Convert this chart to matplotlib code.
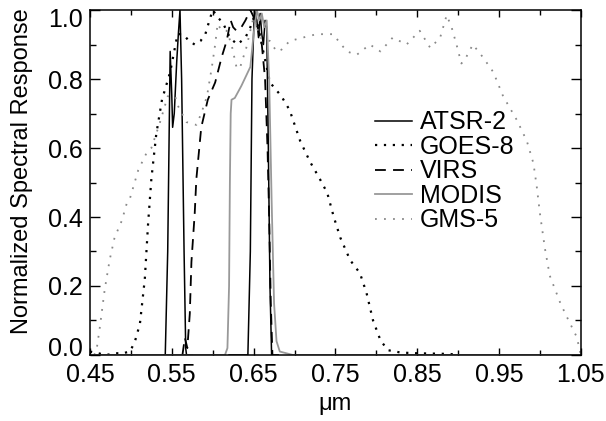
import numpy as np
import matplotlib
matplotlib.use("Agg")
import matplotlib.pyplot as plt
from matplotlib.ticker import FixedLocator
from matplotlib.transforms import ScaledTranslation

plt.rcParams['font.family'] = ['Liberation Sans', 'DejaVu Sans']

# ATSR-2 (two bands, NaN separates them)
atsr_wl = [0.540, 0.542, 0.545, 0.548, 0.550, 0.551, 0.553, 0.556, 0.558, 0.560,
           0.562, 0.565, 0.567, 0.568, 0.575, np.nan,
           0.620, 0.643, 0.646, 0.648, 0.651, 0.654, 0.656, 0.658, 0.660, 0.662,
           0.664, 0.666, 0.668, 0.670, 0.672, 0.680]
atsr_resp = [0.0, 0.0, 0.30, 0.88, 0.75, 0.66, 0.70, 0.85, 0.93, 1.0,
             0.80, 0.30, 0.02, 0.0, 0.0, np.nan,
             0.0, 0.0, 0.30, 0.80, 1.0, 0.97, 0.92, 0.99, 0.93, 0.90,
             0.97, 0.95, 0.60, 0.20, 0.0, 0.0]

goes_wl = [0.45, 0.46, 0.47, 0.48, 0.49, 0.499, 0.505, 0.511, 0.517, 0.521,
           0.525, 0.531, 0.538, 0.548, 0.557, 0.564, 0.571, 0.578, 0.585, 0.591,
           0.596, 0.600, 0.606, 0.613, 0.621, 0.630, 0.640, 0.646, 0.652, 0.660,
           0.670, 0.684, 0.694, 0.707, 0.719, 0.731, 0.740, 0.748, 0.756, 0.768,
           0.780, 0.788, 0.796, 0.805, 0.814, 0.830, 0.850, 0.870, 0.890, 0.900]
goes_resp = [0.01, 0.005, 0.0, 0.005, 0.005, 0.01, 0.04, 0.09, 0.22, 0.38,
             0.51, 0.64, 0.74, 0.82, 0.93, 0.93, 0.91, 0.90, 0.91, 0.93,
             0.97, 1.0, 0.98, 0.96, 0.92, 0.90, 0.92, 0.95, 0.99, 0.90,
             0.79, 0.75, 0.71, 0.62, 0.56, 0.51, 0.47, 0.40, 0.34, 0.275,
             0.237, 0.18, 0.10, 0.043, 0.014, 0.007, 0.005, 0.004, 0.003, 0.0]

virs_wl = [0.563, 0.566, 0.569, 0.572, 0.574, 0.578, 0.580, 0.586, 0.594, 0.603,
           0.611, 0.617, 0.622, 0.625, 0.629, 0.635, 0.640, 0.646, 0.650, 0.655,
           0.660, 0.664, 0.667, 0.669, 0.671, 0.673]
virs_resp = [0.0, 0.05, 0.02, 0.12, 0.27, 0.41, 0.51, 0.66, 0.74, 0.79,
             0.864, 0.91, 0.97, 0.95, 0.94, 0.95, 0.97, 1.0, 0.98, 0.95,
             0.90, 0.80, 0.60, 0.40, 0.15, 0.0]

modis_wl = [0.45, 0.615, 0.618, 0.620, 0.621, 0.622, 0.623, 0.627, 0.635, 0.641,
            0.646, 0.650, 0.654, 0.657, 0.660, 0.663, 0.666, 0.669, 0.672, 0.675,
            0.678, 0.682, 0.690, 0.698, 1.05]
modis_resp = [0.0, 0.0, 0.02, 0.20, 0.50, 0.70, 0.74, 0.745, 0.78, 0.81,
              0.835, 0.93, 1.0, 0.97, 0.99, 0.95, 0.97, 0.80, 0.45, 0.15,
              0.04, 0.01, 0.005, 0.0, 0.0]

gms_wl = [0.455, 0.458, 0.462, 0.468, 0.474, 0.480, 0.489, 0.495, 0.499, 0.509,
          0.519, 0.525, 0.535, 0.545, 0.554, 0.558, 0.568, 0.580, 0.586, 0.593,
          0.599, 0.603, 0.606, 0.611, 0.617, 0.623, 0.629, 0.633, 0.641, 0.650,
          0.658, 0.670, 0.678, 0.684, 0.694, 0.710, 0.727, 0.747, 0.764, 0.776,
          0.792, 0.805, 0.820, 0.837, 0.853, 0.866, 0.878, 0.886, 0.892, 0.898,
          0.904, 0.910, 0.918, 0.930, 0.943, 0.955, 0.972, 0.984, 0.992, 0.996,
          1.000, 1.006, 1.012, 1.025, 1.033, 1.045, 1.050]
gms_resp = [0.0, 0.014, 0.08, 0.19, 0.275, 0.34, 0.39, 0.44, 0.455, 0.536,
            0.585, 0.60, 0.67, 0.75, 0.75, 0.72, 0.675, 0.667, 0.70, 0.75,
            0.835, 0.90, 0.96, 0.94, 0.94, 0.90, 0.835, 0.83, 0.89, 0.98,
            0.92, 0.91, 0.88, 0.885, 0.91, 0.92, 0.93, 0.93, 0.88, 0.87,
            0.90, 0.88, 0.92, 0.90, 0.94, 0.89, 0.92, 0.985, 0.95, 0.90,
            0.845, 0.864, 0.90, 0.864, 0.82, 0.75, 0.68, 0.62, 0.556, 0.49,
            0.41, 0.31, 0.23, 0.15, 0.11, 0.052, 0.0]

x_major = [0.45, 0.55, 0.65, 0.75, 0.85, 0.95, 1.05]
x_minor = [0.5, 0.6, 0.7, 0.8, 0.9, 1.0]
y_major = [0.0, 0.2, 0.4, 0.6, 0.8, 1.0]
y_minor = [0.1, 0.3, 0.5, 0.7, 0.9]

fig = plt.figure(figsize=(6.06, 4.21), dpi=100)
ax = fig.add_axes([0.1485, 0.1568, 0.810, 0.8194])

ax.plot(atsr_wl, atsr_resp, color='black', lw=1.1, label='ATSR-2')
ax.plot(goes_wl, goes_resp, color='black', lw=1.6, linestyle=(0, (1, 3)), label='GOES-8')
ax.plot(virs_wl, virs_resp, color='black', lw=1.3, linestyle=(0, (6, 4)), label='VIRS')
ax.plot(modis_wl, modis_resp, color='#999999', lw=1.3, label='MODIS')
ax.plot(gms_wl, gms_resp, color='#888888', lw=1.3, linestyle=(0, (1, 4)), label='GMS-5')

ax.set_xlim(0.45, 1.05)
ax.set_ylim(0.0, 1.0)
ax.xaxis.set_major_locator(FixedLocator(x_major))
ax.xaxis.set_minor_locator(FixedLocator(x_minor))
ax.yaxis.set_major_locator(FixedLocator(y_major))
ax.yaxis.set_minor_locator(FixedLocator(y_minor))
ax.set_xticklabels([f'{v:.2f}' for v in x_major], fontsize=18)
ax.set_yticklabels([f'{v:.1f}' for v in y_major], fontsize=18)

ax.tick_params(axis='both', which='both', direction='in', top=True, right=True, width=1.0)
ax.tick_params(axis='x', which='major', length=5, pad=6)
ax.tick_params(axis='x', which='minor', length=3.5)
ax.tick_params(axis='y', which='major', length=7.5, pad=5)
ax.tick_params(axis='y', which='minor', length=4)
for s in ax.spines.values():
    s.set_linewidth(1.1)

# end labels sit a little inside the axis range, as in the original
ylabels = ax.get_yticklabels()
ylabels[0].set_transform(ylabels[0].get_transform() + ScaledTranslation(0, 0.08, fig.dpi_scale_trans))
ylabels[-1].set_transform(ylabels[-1].get_transform() + ScaledTranslation(0, -0.07, fig.dpi_scale_trans))

ax.set_xlabel('\u03bcm', fontsize=17)
ax.set_ylabel('Normalized Spectral Response', fontsize=17)
ax.xaxis.set_label_coords(0.5, -0.11)
ax.yaxis.set_label_coords(-0.116, 0.533)

ax.legend(loc='upper left', bbox_to_anchor=(0.58, 0.709), frameon=False,
          fontsize=18, handlelength=1.48, handletextpad=0.32, labelspacing=0.02,
          borderpad=0, borderaxespad=0)

fig.savefig('out.png', dpi=100)
